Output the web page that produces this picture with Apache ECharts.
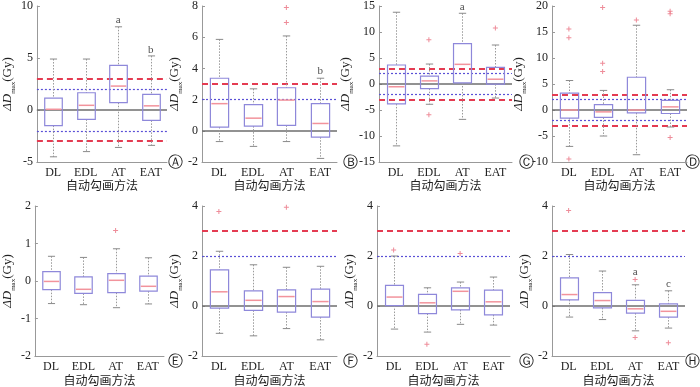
<!DOCTYPE html>
<html><head><meta charset="utf-8">
<script src="https://cdn.jsdelivr.net/npm/echarts@6/dist/echarts.min.js"></script>
<style>html,body{margin:0;padding:0;background:#fff}#c{width:700px;height:387px}</style>
</head><body><div id="c"></div>
<script>
// ---------- data ----------
const categories = ['DL', 'EDL', 'AT', 'EAT'];
const xTitle = '自动勾画方法';
// box: [lower whisker, Q1, median, Q3, upper whisker]
const boxA = [[-4.5,-1.5,0.07,1.15,4.9],[-4.0,-0.9,0.45,1.66,4.9],[-3.6,0.7,2.3,4.3,8.0],[-3.4,-1.0,0.4,1.5,5.2]];
const outA = [];
const letA = [[2,8.6,'a'],[3,5.8,'b']];
const boxB = [[-0.69,0.24,1.74,3.37,5.86],[-1.0,0.30,0.81,1.68,2.69],[-0.69,0.35,1.97,2.76,6.08],[-1.77,-0.41,0.47,1.74,3.37]];
const outB = [[2,7.9],[2,6.94]];
const letB = [[3,3.8,'b']];
const boxC = [[-11.9,-3.83,-0.53,3.65,13.8],[-3.9,-0.9,0.6,1.5,3.84],[-6.8,0.2,3.78,7.77,13.6],[-2.7,-0.03,0.92,3.2,7.5]];
const outC = [[1,8.5],[1,-5.9],[3,10.75]];
const letC = [[2,14.8,'a']];
const boxD = [[-7.0,-1.56,0.0,3.26,5.67],[-5.0,-1.43,-0.36,1.04,3.77],[-8.6,-0.55,0.0,6.3,16.3],[-3.27,-0.67,0.6,1.86,3.9]];
const outD = [[0,15.6],[0,13.9],[0,-9.4],[1,19.7],[1,8.97],[1,7.38],[2,17.3],[3,19.0],[3,18.5],[3,-5.3]];
const letD = [];
const boxE = [[-0.6,-0.23,-0.01,0.25,0.66],[-0.63,-0.33,-0.22,0.11,0.63],[-0.71,-0.31,0.02,0.2,0.86],[-0.61,-0.27,-0.14,0.13,0.62]];
const outE = [[2,1.35]];
const letE = [];
const boxF = [[-1.09,-0.08,0.57,1.45,2.19],[-1.19,-0.17,0.23,0.61,1.65],[-0.9,-0.24,0.38,0.65,1.55],[-1.35,-0.44,0.18,0.68,1.59]];
const outF = [[0,3.78],[2,3.95]];
const letF = [];
const boxG = [[-0.92,0.02,0.36,0.83,2.0],[-1.04,-0.3,0.13,0.47,0.73],[-0.73,-0.15,0.59,0.73,0.96],[-0.76,-0.35,0.17,0.64,1.16]];
const outG = [[0,2.24],[1,-1.53],[2,2.1]];
const letG = [];
const boxH = [[-0.44,0.25,0.46,1.13,2.06],[-0.54,-0.07,0.22,0.54,1.4],[-0.99,-0.28,-0.11,0.23,0.85],[-0.88,-0.44,-0.21,0.09,0.61]];
const outH = [[0,3.82],[2,1.06],[2,-1.26],[3,-1.47]];
const letH = [[2,1.36,'a'],[3,0.88,'c']];
// y ranges [min, max, interval]
const yA = [-5,10,5], yB = [-2,8,2], yC = [-15,15,5], yD = [-10,20,5];
const yE = [-2,2,1], yF = [-2,4,2], yG = [-2,4,2], yH = [-2,4,2];
// reference lines
const redAll = [3,-3], blueAll = [2,-2], redPos = [3], bluePos = [2];
const tags = ['Ⓐ','Ⓑ','Ⓒ','Ⓓ','Ⓔ','Ⓕ','Ⓖ','Ⓗ'];

// ---------- layout ----------
const panels = [
  {box:boxA,out:outA,let:letA,y:yA,red:redAll,blue:blueAll,zero:true, g:{left:29,top:5,width:138,height:157}, tag:[175,163]},
  {box:boxB,out:outB,let:letB,y:yB,red:redPos,blue:bluePos,zero:true, g:{left:202,top:5,width:135,height:157}, tag:[350,163]},
  {box:boxC,out:outC,let:letC,y:yC,red:redAll,blue:blueAll,zero:true, g:{left:379,top:5,width:133,height:157}, tag:[526,163]},
  {box:boxD,out:outD,let:letD,y:yD,red:redAll,blue:blueAll,zero:true, g:{left:552,top:5,width:135,height:157}, tag:[692,163]},
  {box:boxE,out:outE,let:letE,y:yE,red:[],blue:[],zero:false, g:{left:29,top:206,width:135,height:157}, tag:[175,362]},
  {box:boxF,out:outF,let:letF,y:yF,red:redPos,blue:bluePos,zero:true, g:{left:202,top:206,width:135,height:157}, tag:[350,362]},
  {box:boxG,out:outG,let:letG,y:yG,red:redPos,blue:bluePos,zero:true, g:{left:377,top:206,width:133,height:157}, tag:[526,362]},
  {box:boxH,out:outH,let:letH,y:yH,red:redPos,blue:bluePos,zero:true, g:{left:552,top:206,width:133,height:157}, tag:[692,362]}
];

const serif = '"Liberation Serif","DejaVu Serif",serif';
const grids = [], xAxes = [], yAxes = [], series = [], graphics = [];

function renderBox(params, api) {
  const c = api.value(0);
  const lo = api.coord([c, api.value(1)]);
  const q1 = api.coord([c, api.value(2)]);
  const md = api.coord([c, api.value(3)]);
  const q3 = api.coord([c, api.value(4)]);
  const hi = api.coord([c, api.value(5)]);
  const bw = api.size([1, 0])[0];
  const hw = bw * 0.27, cw = bw * 0.11;
  const x = Math.round(lo[0]) + 0.5;
  const wh = {stroke:'#9a9a9a', lineWidth:1, lineDash:[1.5,1.5]};
  const cap = {stroke:'#8a8a8a', lineWidth:1};
  return {type:'group', children:[
    {type:'line', shape:{x1:x,y1:hi[1],x2:x,y2:q3[1]}, style:wh},
    {type:'line', shape:{x1:x,y1:q1[1],x2:x,y2:lo[1]}, style:wh},
    {type:'line', shape:{x1:x-cw,y1:hi[1],x2:x+cw,y2:hi[1]}, style:cap},
    {type:'line', shape:{x1:x-cw,y1:lo[1],x2:x+cw,y2:lo[1]}, style:cap},
    {type:'rect', shape:{x:x-hw,y:q3[1],width:2*hw,height:q1[1]-q3[1]}, style:{fill:'none',stroke:'#8e88da',lineWidth:1.2}},
    {type:'line', shape:{x1:x-hw+1,y1:md[1],x2:x+hw-1,y2:md[1]}, style:{stroke:'#f2939c',lineWidth:1.5}}
  ]};
}

panels.forEach((p, i) => {
  grids.push(Object.assign({containLabel:false}, p.g));
  xAxes.push({
    type:'category', gridIndex:i, data:categories, boundaryGap:true,
    axisLine:{show:true, onZero:false, lineStyle:{color:'#999', width:1}},
    axisTick:{show:false},
    axisLabel:{fontFamily:serif, fontSize:12, color:'#222', margin:5},
    name:xTitle, nameLocation:'middle', nameGap:15,
    nameTextStyle:{fontFamily:'"Noto Sans CJK SC"', fontSize:12, color:'#222'}
  });
  yAxes.push({
    type:'value', gridIndex:i, min:p.y[0], max:p.y[1], interval:p.y[2],
    splitLine:{show:false},
    axisLine:{show:true, lineStyle:{color:'#999'}},
    axisTick:{show:true, inside:true, length:3, lineStyle:{color:'#999'}},
    axisLabel:{fontFamily:serif, fontSize:12, color:'#222', margin:4},
    name:'{i|ΔD}{s|max}{n|(Gy)}', nameLocation:'middle', nameRotate:90, nameGap:14,
    nameTextStyle:{
      rich:{
        i:{fontFamily:serif, fontStyle:'italic', fontSize:13, color:'#222', lineHeight:16, verticalAlign:'top'},
        s:{fontFamily:serif, fontSize:7, color:'#222', lineHeight:16, verticalAlign:'bottom'},
        n:{fontFamily:serif, fontSize:13, color:'#222', lineHeight:16, verticalAlign:'top'}
      }
    }
  });
  const ml = [];
  if (p.zero) ml.push({yAxis:0, lineStyle:{color:'#6e6e6e', width:1.5, type:'solid'}});
  p.blue.forEach(v => ml.push({yAxis:v, lineStyle:{color:'#5a50d6', width:1.2, type:[2,2]}}));
  p.red.forEach(v => ml.push({yAxis:v, lineStyle:{color:'#e43c52', width:2, type:[6,4]}}));
  series.push({
    type:'custom', xAxisIndex:i, yAxisIndex:i,
    data:p.box.map((b, k) => [k].concat(b)),
    encode:{x:0, y:[1,2,3,4,5]},
    renderItem:renderBox, silent:true, z:3,
    markLine:{silent:true, symbol:'none', label:{show:false}, animation:false, data:ml, z:2}
  });
  series.push({
    type:'scatter', xAxisIndex:i, yAxisIndex:i, data:p.out, silent:true, z:4,
    symbol:'path://M2,0H3V2H5V3H3V5H2V3H0V2H2Z', symbolSize:5,
    itemStyle:{color:'#ea6f80'}
  });
  series.push({
    type:'scatter', xAxisIndex:i, yAxisIndex:i, silent:true, z:5,
    symbolSize:1, itemStyle:{color:'rgba(255,255,255,0)'},
    data:p.let.map(l => ({value:[l[0], l[1]], label:{show:true, formatter:l[2]}})),
    label:{show:true, position:'inside', fontFamily:serif, fontSize:11, color:'#222'}
  });
  graphics.push({type:'text', x:p.tag[0], y:p.tag[1],
    style:{text:tags[i], font:'15px "DejaVu Sans"', fill:'#222', textAlign:'center', textVerticalAlign:'middle'}});
});

const chart = echarts.init(document.getElementById('c'), null, {renderer:'canvas'});
chart.setOption({
  animation:false, backgroundColor:'#fff',
  grid:grids, xAxis:xAxes, yAxis:yAxes, series:series, graphic:graphics
});
</script></body></html>
